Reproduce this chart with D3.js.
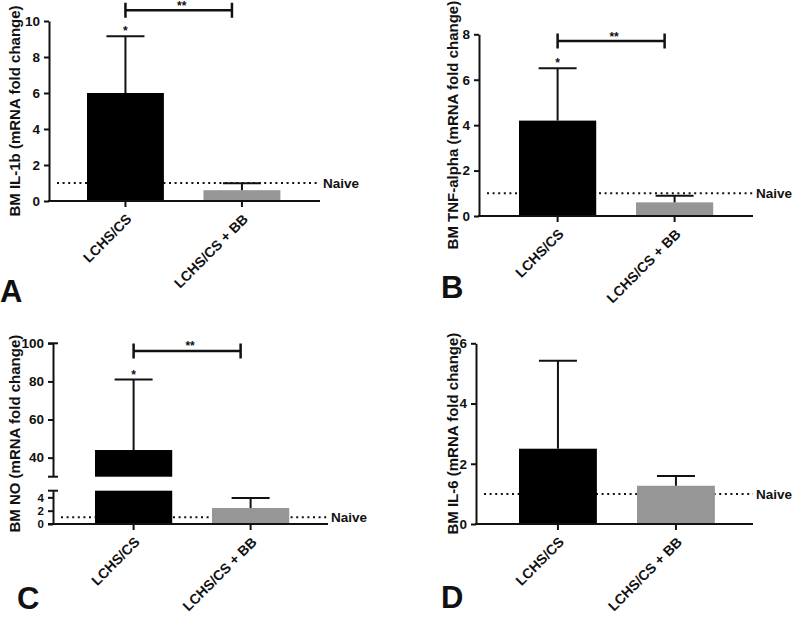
<!DOCTYPE html>
<html><head><meta charset="utf-8">
<script src="https://cdn.jsdelivr.net/npm/d3@7"></script>
<style>
body{margin:0;background:#fff;}
text{font-family:"Liberation Sans",Arial,Helvetica,sans-serif;font-weight:bold;fill:#111;}
</style>
</head><body>
<svg id="chart" width="800" height="620"></svg>
<script>
// ---------- data ----------
const categories = ["LCHS/CS", "LCHS/CS + BB"];
const il1bMeans = [6.0, 0.6];
const il1bSD = [3.15, 0.38];
const tnfMeans = [4.2, 0.6];
const tnfSD = [2.3, 0.29];
const noMeans = [44, 2.4];
const noSD = [37, 1.5];
const il6Means = [2.5, 1.27];
const il6SD = [2.92, 0.32];
const naiveLevel = 1;
const naiveLabel = "Naive";
const il1bTicks = [0, 2, 4, 6, 8, 10];
const tnfTicks = [0, 2, 4, 6, 8];
const noLowTicks = [0, 2, 4];
const noHighTicks = [40, 60, 80, 100];
const il6Ticks = [0, 2, 4, 6];
const barColors = ["#000000", "#969696"];

// ---------- layout ----------
const panels = [
  { letter: "A", title: "BM IL-1b (mRNA fold change)", means: il1bMeans, sd: il1bSD,
    axisX: 49, axisRight: 320, barOffset: 38, step: 116.5, titleX: 15,
    segments: [{ domain: [0, 10], range: [201, 21], ticks: il1bTicks, fs: 13.5 }],
    sig: 10.6, star: true, letterPos: [0, 302] },
  { letter: "B", title: "BM TNF-alpha  (mRNA fold change)", means: tnfMeans, sd: tnfSD,
    axisX: 479, axisRight: 753, barOffset: 40, step: 117, titleX: 453,
    segments: [{ domain: [0, 8], range: [216, 34.3], ticks: tnfTicks, fs: 13.5 }],
    sig: 7.7, star: true, letterPos: [441, 298] },
  { letter: "C", title: "BM NO (mRNA fold change)", means: noMeans, sd: noSD,
    axisX: 53, axisRight: 328, barOffset: 42, step: 117, titleX: 15,
    segments: [{ domain: [0, 5], range: [524, 490.7], ticks: noLowTicks, caps: true, fs: 11.5 },
               { domain: [30, 100], range: [476.7, 343.3], ticks: noHighTicks, caps: true, fs: 13.5 }],
    sig: 96, star: true, letterPos: [17, 609] },
  { letter: "D", title: "BM IL-6  (mRNA fold change)", means: il6Means, sd: il6SD,
    axisX: 476, axisRight: 753, barOffset: 43, step: 118, titleX: 453,
    segments: [{ domain: [0, 6], range: [524, 343.3], ticks: il6Ticks, fs: 13.5 }],
    sig: null, star: false, letterPos: [441, 608] }
];

const svg = d3.select("#chart");

panels.forEach(p => {
  const g = svg.append("g");
  const inner = 0.34;
  const x = d3.scaleBand().domain(categories)
    .range([p.axisX + p.barOffset, p.axisX + p.barOffset + p.step * (2 - inner)])
    .paddingInner(inner).paddingOuter(0);
  const bw = x.bandwidth();
  const cx = c => x(c) + bw / 2;

  p.segments.forEach(s => { s.y = d3.scaleLinear().domain(s.domain).range(s.range); });
  const base = p.segments[0];
  const baseY = base.y(0);

  // naive dotted line (behind bars)
  g.append("line")
    .attr("x1", p.axisX + 8).attr("x2", p.axisRight)
    .attr("y1", base.y(naiveLevel)).attr("y2", base.y(naiveLevel))
    .attr("stroke", "#111").attr("stroke-width", 2).attr("stroke-dasharray", "2,3.6");
  g.append("text").attr("x", p.axisRight + 3).attr("y", base.y(naiveLevel))
    .attr("dy", "0.36em").style("font-size", "13.5px").text(naiveLabel);

  // bars in each segment
  p.segments.forEach(s => {
    categories.forEach((c, i) => {
      const lo = s.domain[0], hi = Math.min(p.means[i], s.domain[1]);
      if (hi > lo) {
        g.append("rect").attr("x", x(c)).attr("width", bw)
          .attr("y", s.y(hi)).attr("height", s.y(lo) - s.y(hi))
          .attr("fill", barColors[i]);
      }
    });
  });

  // error bars
  categories.forEach((c, i) => {
    const s = p.segments.find(s => p.means[i] >= s.domain[0] && p.means[i] <= s.domain[1]);
    const top = p.means[i] + p.sd[i];
    g.append("line").attr("x1", cx(c)).attr("x2", cx(c))
      .attr("y1", s.y(p.means[i])).attr("y2", s.y(top))
      .attr("stroke", "#111").attr("stroke-width", 2);
    g.append("line").attr("x1", cx(c) - 19).attr("x2", cx(c) + 19)
      .attr("y1", s.y(top)).attr("y2", s.y(top))
      .attr("stroke", "#111").attr("stroke-width", 2);
    if (p.star && i === 0) {
      g.append("text").attr("x", cx(c)).attr("y", s.y(top) - 1)
        .attr("text-anchor", "middle").style("font-size", "12px").text("*");
    }
  });

  // y axis segments
  p.segments.forEach(s => {
    const ax = g.append("g").attr("transform", `translate(${p.axisX},0)`)
      .call(d3.axisLeft(s.y).tickValues(s.ticks).tickSize(5).tickSizeOuter(0).tickPadding(4).tickFormat(d3.format("d")));
    ax.select(".domain").attr("stroke", "#111").attr("stroke-width", 2);
    ax.selectAll(".tick line").attr("stroke", "#111").attr("stroke-width", 2);
    ax.selectAll(".tick text").style("font-size", s.fs + "px").attr("fill", "#111")
      .style("font-family", '"Liberation Sans",Arial,sans-serif').style("font-weight", "bold");
    if (s.caps) {
      s.domain.forEach(v => {
        g.append("line").attr("x1", p.axisX - 5).attr("x2", p.axisX + 5)
          .attr("y1", s.y(v)).attr("y2", s.y(v))
          .attr("stroke", "#111").attr("stroke-width", 2);
      });
    }
  });

  // x axis
  g.append("line").attr("x1", p.axisX - 1).attr("x2", p.axisRight)
    .attr("y1", baseY).attr("y2", baseY).attr("stroke", "#111").attr("stroke-width", 2);
  const xb = g.append("g").attr("transform", `translate(0,${baseY})`)
    .call(d3.axisBottom(x).tickSize(6).tickSizeOuter(0));
  xb.select(".domain").remove();
  xb.selectAll(".tick line").attr("stroke", "#111").attr("stroke-width", 2);
  xb.selectAll(".tick text")
    .attr("x", 0).attr("y", 0).attr("dy", 0)
    .attr("transform", "translate(7,19) rotate(-45)")
    .style("text-anchor", "end").style("font-size", "14px").attr("fill", "#111")
    .style("font-family", '"Liberation Sans",Arial,sans-serif').style("font-weight", "bold");

  // significance bracket
  if (p.sig !== null) {
    const s = p.segments[p.segments.length - 1];
    const yb = s.y(p.sig);
    const x1 = cx(categories[0]), x2 = cx(categories[1]) - 10;
    g.append("path")
      .attr("d", `M${x1},${yb - 7.5}V${yb + 7.5}M${x1},${yb}H${x2}M${x2},${yb - 7.5}V${yb + 7.5}`)
      .attr("fill", "none").attr("stroke", "#111").attr("stroke-width", 2.5);
    g.append("text").attr("x", (x1 + x2) / 2 + 3).attr("y", yb - 0.5)
      .attr("text-anchor", "middle").style("font-size", "12px").text("**");
  }

  // y title
  const yMid = (d3.min(p.segments, s => s.range[1]) + baseY) / 2;
  g.append("text")
    .attr("transform", `translate(${p.titleX},${yMid}) rotate(-90)`)
    .attr("text-anchor", "middle").attr("dy", "0.36em")
    .style("font-size", "15px").text(p.title);

  // panel letter
  g.append("text").attr("x", p.letterPos[0]).attr("y", p.letterPos[1])
    .style("font-size", "31px").text(p.letter);
});
</script>
</body></html>
